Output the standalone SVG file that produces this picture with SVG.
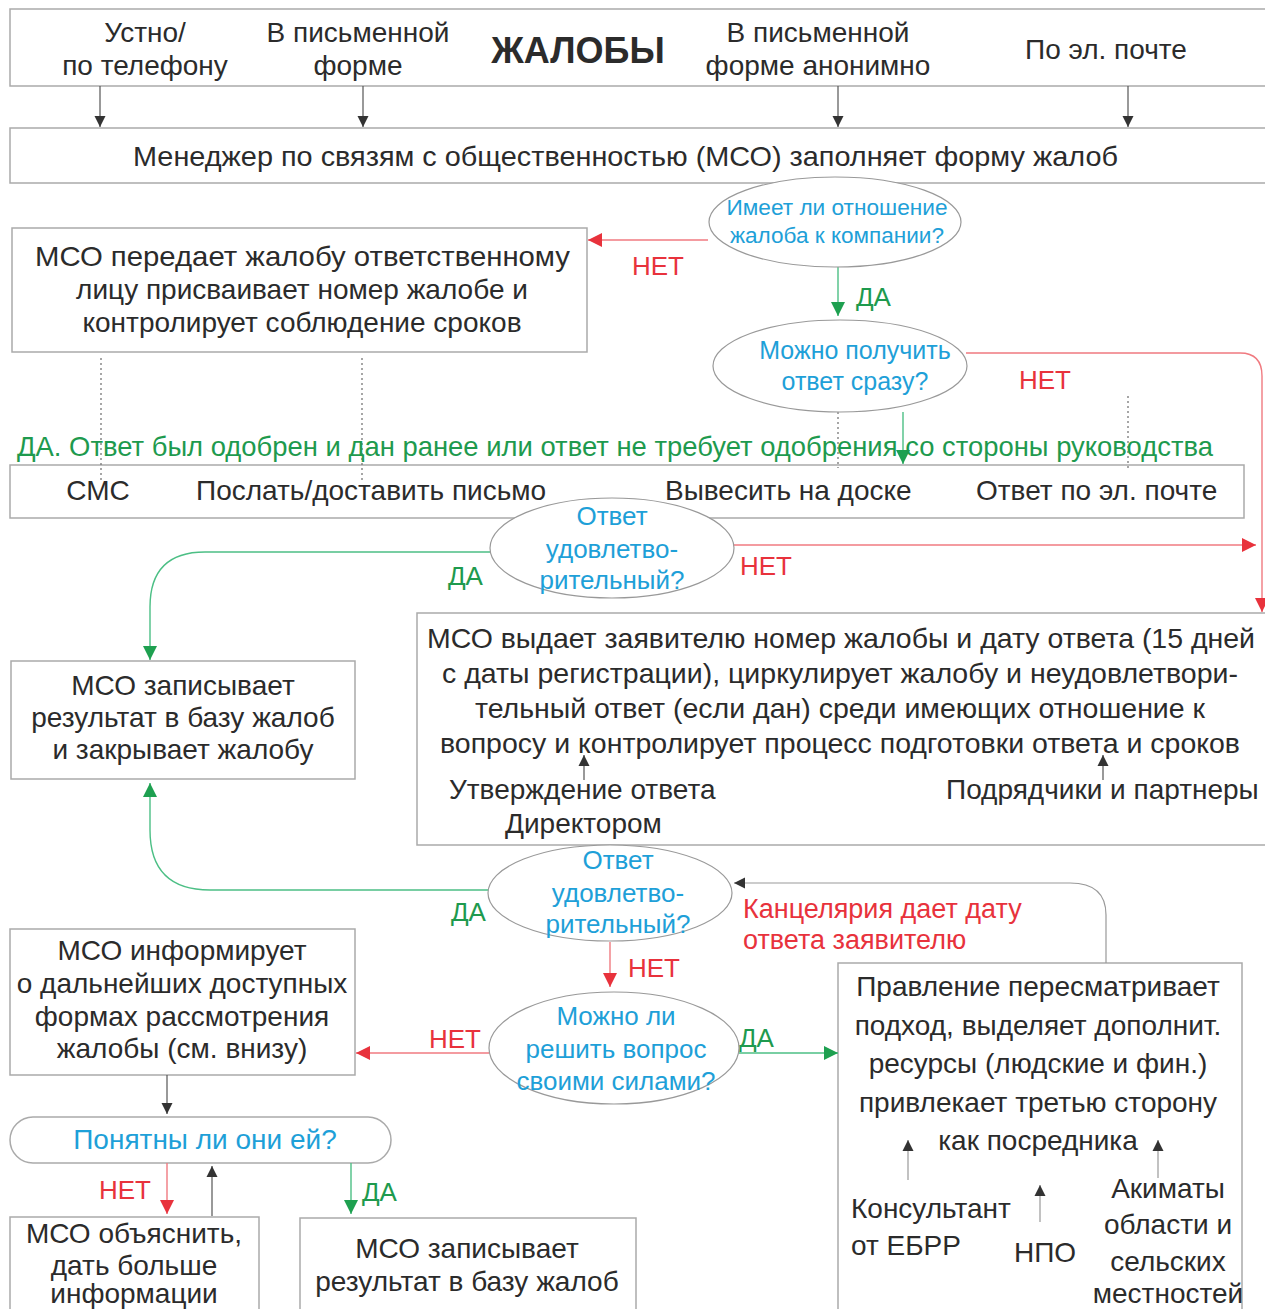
<svg xmlns="http://www.w3.org/2000/svg" width="1265" height="1309" viewBox="0 0 1265 1309">
<style>
.box{fill:#fff;stroke:#aaa;stroke-width:1.5}
.ell{fill:#fff;stroke:#999;stroke-width:1.2}
.t{font-family:"Liberation Sans",Arial,sans-serif;font-size:28px;fill:#2b2b2b}
.l{font-size:26px}
.c{text-anchor:middle}
.q{fill:#1ea0d8}
.red{fill:#e8323c}
.grn{fill:#1e9a4e}
.lk{stroke:#555;stroke-width:1.2;fill:none}
.lr{stroke:#f07a80;stroke-width:1.4;fill:none}
.lg{stroke:#4cbf85;stroke-width:1.4;fill:none}
.dot{stroke:#777;stroke-width:1.3;stroke-dasharray:2 3;fill:none}
</style>
<defs>
<marker id="ak" viewBox="0 0 10 10" refX="10" refY="5" markerWidth="11" markerHeight="14" markerUnits="userSpaceOnUse" orient="auto"><path d="M0,0 L10,5 L0,10 z" fill="#333"/></marker>
<marker id="ar" viewBox="0 0 10 10" refX="10" refY="5" markerWidth="14" markerHeight="14" markerUnits="userSpaceOnUse" orient="auto"><path d="M0,0 L10,5 L0,10 z" fill="#e8323c"/></marker>
<marker id="ag" viewBox="0 0 10 10" refX="10" refY="5" markerWidth="14" markerHeight="14" markerUnits="userSpaceOnUse" orient="auto"><path d="M0,0 L10,5 L0,10 z" fill="#1ea050"/></marker>
</defs>
<rect width="1265" height="1309" fill="#fff"/>

<g id="sources">
<rect class="box" x="10" y="9" width="1270" height="77"/>
<text class="t c" x="145" y="42">Устно/</text>
<text class="t c" x="145" y="75">по телефону</text>
<text class="t c" x="358" y="42">В письменной</text>
<text class="t c" x="358" y="75">форме</text>
<text class="t c" x="578" y="63" style="font-weight:bold;font-size:36px">ЖАЛОБЫ</text>
<text class="t c" x="818" y="42">В письменной</text>
<text class="t c" x="818" y="75">форме анонимно</text>
<text class="t c" x="1106" y="59">По эл. почте</text>
</g>

<g id="manager">
<rect class="box" x="10" y="128" width="1270" height="55"/>
<text class="t" x="133" y="166" textLength="985" lengthAdjust="spacingAndGlyphs">Менеджер по связям с общественностью (МСО) заполняет форму жалоб</text>
</g>

<g id="transfer">
<rect class="box" x="12" y="228" width="575" height="124"/>
<text class="t" x="35" y="266" textLength="535" lengthAdjust="spacingAndGlyphs">МСО передает жалобу ответственному</text>
<text class="t c" x="302" y="299">лицу присваивает номер жалобе и</text>
<text class="t c" x="302" y="332">контролирует соблюдение сроков</text>
</g>

<g id="channels">
<rect class="box" x="10" y="465" width="1234" height="53"/>
<text class="t c" x="98" y="500">СМС</text>
<text class="t" x="196" y="500">Послать/доставить письмо</text>
<text class="t" x="665" y="500">Вывесить на доске</text>
<text class="t" x="976" y="500">Ответ по эл. почте</text>
</g>

<g id="record1">
<rect class="box" x="11" y="661" width="344" height="118"/>
<text class="t c" x="183" y="695">МСО записывает</text>
<text class="t c" x="183" y="727">результат в базу жалоб</text>
<text class="t c" x="183" y="759">и закрывает жалобу</text>
</g>

<g id="issue">
<rect class="box" x="417" y="613" width="860" height="232"/>
<text class="t" x="427" y="648" textLength="828" lengthAdjust="spacingAndGlyphs">МСО выдает заявителю номер жалобы и дату ответа (15 дней</text>
<text class="t" x="442" y="683" textLength="796" lengthAdjust="spacingAndGlyphs">с даты регистрации), циркулирует жалобу и неудовлетвори-</text>
<text class="t" x="475" y="718" textLength="730" lengthAdjust="spacingAndGlyphs">тельный ответ (если дан) среди имеющих отношение к</text>
<text class="t" x="440" y="753" textLength="800" lengthAdjust="spacingAndGlyphs">вопросу и контролирует процесс подготовки ответа и сроков</text>
<text class="t" x="449" y="799">Утверждение ответа</text>
<text class="t" x="505" y="833">Директором</text>
<text class="t" x="946" y="799">Подрядчики и партнеры</text>
</g>

<g id="inform">
<rect class="box" x="10" y="929" width="345" height="146"/>
<text class="t c" x="182" y="960">МСО информирует</text>
<text class="t c" x="182" y="993">о дальнейших доступных</text>
<text class="t c" x="182" y="1026">формах рассмотрения</text>
<text class="t c" x="182" y="1058">жалобы (см. внизу)</text>
</g>

<g id="understood">
<rect class="box" x="10" y="1117" width="381" height="46" rx="23"/>
<text class="t c q" x="205" y="1149">Понятны ли они ей?</text>
</g>

<g id="explain">
<rect class="box" x="10" y="1217" width="249" height="110"/>
<text class="t c" x="134" y="1243">МСО объяснить,</text>
<text class="t c" x="134" y="1275">дать больше</text>
<text class="t c" x="134" y="1303">информации</text>
</g>

<g id="record2">
<rect class="box" x="300" y="1218" width="336" height="110"/>
<text class="t c" x="467" y="1258">МСО записывает</text>
<text class="t c" x="467" y="1291">результат в базу жалоб</text>
</g>

<g id="board">
<rect class="box" x="838" y="963" width="404" height="370"/>
<text class="t c" x="1038" y="996">Правление пересматривает</text>
<text class="t c" x="1038" y="1035">подход, выделяет дополнит.</text>
<text class="t c" x="1038" y="1073">ресурсы (людские и фин.)</text>
<text class="t c" x="1038" y="1112">привлекает третью сторону</text>
<text class="t c" x="1038" y="1150">как посредника</text>
<text class="t" x="851" y="1218">Консультант</text>
<text class="t" x="851" y="1255">от ЕБРР</text>
<text class="t c" x="1045" y="1262">НПО</text>
<text class="t c" x="1168" y="1198">Акиматы</text>
<text class="t c" x="1168" y="1234">области и</text>
<text class="t c" x="1168" y="1271">сельских</text>
<text class="t c" x="1168" y="1303">местностей</text>
</g>

<g id="connectors">
<path class="lk" d="M100 86 V127" marker-end="url(#ak)"/>
<path class="lk" d="M363 86 V127" marker-end="url(#ak)"/>
<path class="lk" d="M838 86 V127" marker-end="url(#ak)"/>
<path class="lk" d="M1128 86 V127" marker-end="url(#ak)"/>
<path class="lr" d="M708 240 H588" marker-end="url(#ar)"/>
<path class="lg" d="M838 267 V316" marker-end="url(#ag)"/>
<path class="lr" d="M966 353 H1240 Q1262 353 1262 376 V612" marker-end="url(#ar)"/>
<path class="lg" d="M903 412 V464" marker-end="url(#ag)"/>
<path class="dot" d="M101 358 V482"/>
<path class="dot" d="M362 358 V482"/>
<path class="dot" d="M838 412 V468"/>
<path class="dot" d="M1128 396 V468"/>
<path class="lg" d="M490 552 H205 Q150 552 150 607 V660" marker-end="url(#ag)"/>
<path class="lr" d="M733 545 H1256" marker-end="url(#ar)"/>
<path class="lk" d="M584 780 V755" marker-end="url(#ak)"/>
<path class="lk" d="M1103 780 V755" marker-end="url(#ak)"/>
<path class="lg" d="M489 890 H210 Q150 890 150 830 V783" marker-end="url(#ag)"/>
<path class="lk" style="stroke:#999" d="M1106 963 V915 Q1106 883 1070 883 H734" marker-end="url(#ak)"/>
<path class="lr" d="M610 942 V987" marker-end="url(#ar)"/>
<path class="lr" d="M489 1053 H356" marker-end="url(#ar)"/>
<path class="lg" d="M739 1053 H838" marker-end="url(#ag)"/>
<path class="lk" d="M167 1075 V1114" marker-end="url(#ak)"/>
<path class="lr" d="M167 1163 V1214" marker-end="url(#ar)"/>
<path class="lk" d="M212 1216 V1166" marker-end="url(#ak)"/>
<path class="lg" d="M351 1163 V1214" marker-end="url(#ag)"/>
<path class="lk" style="stroke:#999" d="M908 1180 V1140" marker-end="url(#ak)"/>
<path class="lk" style="stroke:#999" d="M1040 1222 V1185" marker-end="url(#ak)"/>
<path class="lk" style="stroke:#999" d="M1158 1178 V1140" marker-end="url(#ak)"/>
<text class="t l red" x="632" y="275">НЕТ</text>
<text class="t l grn" x="856" y="306">ДА</text>
<text class="t l red" x="1019" y="389">НЕТ</text>
<text class="t grn" x="17" y="456" textLength="1196" lengthAdjust="spacingAndGlyphs">ДА. Ответ был одобрен и дан ранее или ответ не требует одобрения со стороны руководства</text>
<text class="t l grn" x="448" y="585">ДА</text>
<text class="t l red" x="740" y="575">НЕТ</text>
<text class="t l grn" x="451" y="921">ДА</text>
<text class="t red" style="font-size:27px" x="743" y="918">Канцелярия дает дату</text>
<text class="t red" style="font-size:27px" x="743" y="949">ответа заявителю</text>
<text class="t l red" x="628" y="977">НЕТ</text>
<text class="t l red" x="429" y="1048">НЕТ</text>
<text class="t l grn" x="739" y="1047">ДА</text>
<text class="t l red" x="99" y="1199">НЕТ</text>
<text class="t l grn" x="362" y="1201">ДА</text>
</g>

<g id="q1">
<ellipse class="ell" cx="835" cy="222" rx="126" ry="45"/>
<text class="t c q" x="837" y="215" style="font-size:22px" textLength="221" lengthAdjust="spacingAndGlyphs">Имеет ли отношение</text>
<text class="t c q" x="837" y="243" style="font-size:22px" textLength="214" lengthAdjust="spacingAndGlyphs">жалоба к компании?</text>
</g>
<g id="q2">
<ellipse class="ell" cx="840" cy="366" rx="127" ry="46"/>
<text class="t c q" x="855" y="359" style="font-size:25px">Можно получить</text>
<text class="t c q" x="855" y="390" style="font-size:25px">ответ сразу?</text>
</g>
<g id="q3">
<ellipse class="ell" cx="612" cy="548" rx="122" ry="50"/>
<text class="t c q" x="612" y="525" style="font-size:26px">Ответ</text>
<text class="t c q" x="612" y="558" style="font-size:26px">удовлетво-</text>
<text class="t c q" x="612" y="589" style="font-size:26px">рительный?</text>
</g>
<g id="q4">
<ellipse class="ell" cx="610" cy="893" rx="122" ry="48"/>
<text class="t c q" x="618" y="869" style="font-size:26px">Ответ</text>
<text class="t c q" x="618" y="902" style="font-size:26px">удовлетво-</text>
<text class="t c q" x="618" y="933" style="font-size:26px">рительный?</text>
</g>
<g id="q5">
<ellipse class="ell" cx="614" cy="1048" rx="125" ry="56"/>
<text class="t c q" x="616" y="1025" style="font-size:26px">Можно ли</text>
<text class="t c q" x="616" y="1058" style="font-size:26px">решить вопрос</text>
<text class="t c q" x="616" y="1090" style="font-size:26px">своими силами?</text>
</g>
</svg>
